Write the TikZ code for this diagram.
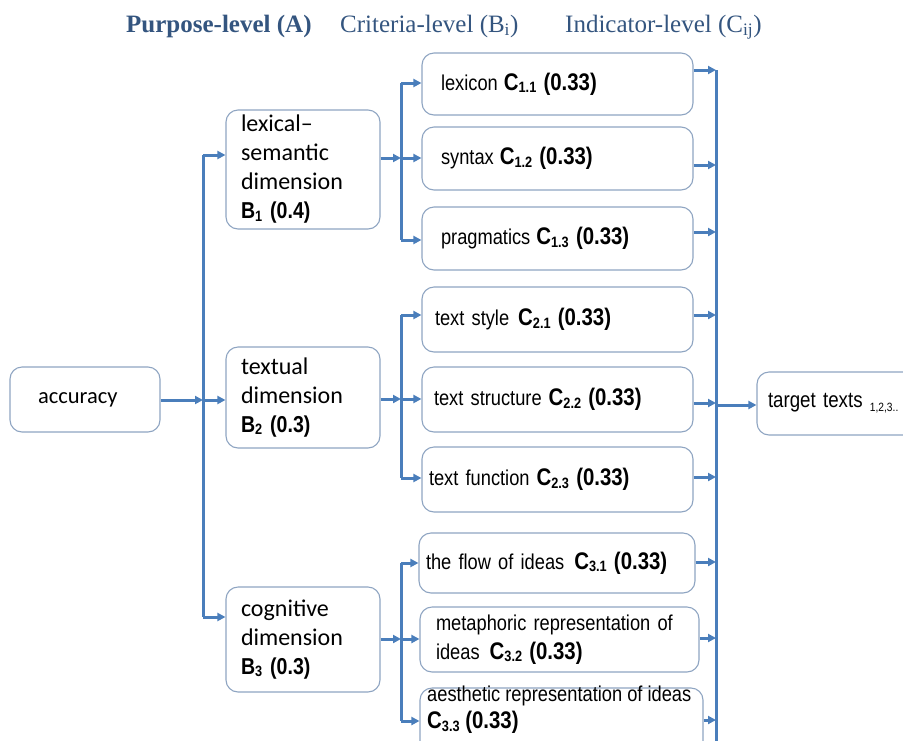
\documentclass[tikz,border=0pt]{standalone}
\usepackage{fontspec}
\setmainfont{Carlito}
\newfontfamily\hfont{Liberation Serif}
\newfontfamily\nfont[FakeStretch=0.85]{Liberation Sans}
\usetikzlibrary{arrows.meta}
\definecolor{lineblue}{HTML}{4A7EBB}
\definecolor{boxedge}{HTML}{8FA5C2}
\definecolor{hdr}{HTML}{34557F}
\newcommand\sbs[1]{\raisebox{-0.1em}{\fontsize{15}{15}\selectfont #1}}
\newcommand\cw[1]{{\bfseries\fontsize{24}{29}\selectfont #1}}
\newcommand\bw[1]{{\nfont\bfseries\fontsize{23}{29}\selectfont #1}}
\begin{document}
\begin{tikzpicture}[x=1pt,y=-1pt,
  rbox/.style={draw=boxedge, line width=1.1pt, rounded corners=12pt, fill=white, inner ysep=0pt, align=left},
  btext/.style={font=\fontsize{24}{29}\selectfont},
  ctext/.style={font=\nfont\fontsize{21.5}{29}\selectfont},
  link/.style={draw=lineblue, line width=3pt},
  arr/.style={link, -{Triangle[length=8pt,width=8pt]}},
  hdrtext/.style={font=\hfont\fontsize{25}{30}\selectfont, text=hdr, inner sep=0pt, anchor=base west}
]
\useasboundingbox (0,0) rectangle (903,740);
\clip (0,0) rectangle (903,740);

% headers
\node[hdrtext] (h1) at (126,32) {\bfseries Purpose-level (A)};
\node[hdrtext] (h2) at (340,32) {Criteria-level (B\textsubscript{i})};
\node[hdrtext] (h3) at (565,32) {Indicator-level (C\textsubscript{ij})};

% boxes
\node[rbox, btext, minimum height=65pt, text width=94pt, inner xsep=28pt, font=\fontsize{22.5}{29}\selectfont] (acc) at (85,399.5) {accuracy};

\node[rbox, btext, minimum height=119pt, text width=124pt, inner xsep=15pt] (B1) at (303,169.5)
  {lexical--\\semantic\\dimension\\\bw{B\sbs{1} (0.4)}};
\node[rbox, btext, minimum height=101pt, text width=124pt, inner xsep=15pt] (B2) at (303,397.5)
  {textual\\dimension\\\bw{B\sbs{2} (0.3)}};
\node[rbox, btext, minimum height=105pt, text width=124pt, inner xsep=15pt] (B3) at (303,639.5)
  {cognitive\\dimension\\\bw{B\sbs{3} (0.3)}};

\node[rbox, ctext, minimum height=62pt, text width=233pt, inner xsep=19pt] (C11) at (557.5,84)
  {lexicon\hspace{6pt}\cw{C\sbs{1.1} (0.33)}};
\node[rbox, ctext, minimum height=63pt, text width=233pt, inner xsep=19pt] (C12) at (557.5,158.5)
  {syntax\hspace{6pt}\cw{C\sbs{1.2} (0.33)}};
\node[rbox, ctext, minimum height=63pt, text width=233pt, inner xsep=19pt] (C13) at (557.5,238.5)
  {pragmatics\hspace{6pt}\cw{C\sbs{1.3} (0.33)}};

\node[rbox, ctext, minimum height=65pt, text width=245pt, inner xsep=13pt] (C21) at (557.5,319.5)
  {text style\hspace{9pt}\cw{C\sbs{2.1} (0.33)}};
\node[rbox, ctext, minimum height=65pt, text width=247pt, inner xsep=12pt] (C22) at (557.5,399.5)
  {text structure\hspace{7pt}\cw{C\sbs{2.2} (0.33)}};
\node[rbox, ctext, minimum height=65pt, text width=257pt, inner xsep=7pt] (C23) at (557.5,479.5)
  {text function\hspace{7pt}\cw{C\sbs{2.3} (0.33)}};

\node[rbox, ctext, minimum height=60pt, text width=262pt, inner xsep=7pt] (C31) at (557,563)
  {the flow of ideas\hspace{10pt}\cw{C\sbs{3.1} (0.33)}};
\node[rbox, ctext, minimum height=65pt, text width=247pt, inner xsep=16pt] (C32) at (559.5,639.5)
  {metaphoric representation of\\ideas\hspace{10pt}\cw{C\sbs{3.2} (0.33)}};
\node[rbox, minimum height=72pt, minimum width=283pt] (C33) at (561.5,724) {};
\node[ctext, anchor=north west, inner sep=0pt, align=left, font=\nfont\fontsize{21.5}{27}\selectfont] (C33t) at (427,686)
  {aesthetic representation of ideas\\\cw{C\sbs{3.3} (0.33)}};

\node[rbox, ctext, minimum height=63pt, text width=141pt, inner xsep=11pt, font=\nfont\fontsize{22}{29}\selectfont] (T) at (838.5,403.5)
  {target texts {\fontsize{12}{12}\selectfont\raisebox{-0.35em}{1,2,3..}}};

% junction coordinates
\coordinate (sAt) at (203,155);
\coordinate (sA) at (203,400);
\coordinate (sAb) at (203,617);
\coordinate (j1t) at (401,83);
\coordinate (j1) at (401,158);
\coordinate (j1b) at (401,240);
\coordinate (j2t) at (401,315);
\coordinate (j2) at (401,399);
\coordinate (j2b) at (401,478);
\coordinate (j3t) at (401,563);
\coordinate (j3) at (401,639);
\coordinate (j3b) at (401,721);
\coordinate (rt) at (716,70);
\coordinate (rb) at (716,745);
\coordinate (r11) at (716,70);
\coordinate (r12) at (716,165);
\coordinate (r13) at (716,232);
\coordinate (r21) at (716,315);
\coordinate (r22) at (716,403);
\coordinate (r23) at (716,477);
\coordinate (r31) at (716,562);
\coordinate (r32) at (716,638);
\coordinate (r33) at (716,720);
\coordinate (rT) at (716,405);

% left spine
\draw[link] (sAt) -- (sAb);
\draw[arr] (acc.east |- sA) -- (sA);
\draw[arr] (sA) -- (B2.west |- sA);
\draw[arr] (sAt) -- (B1.west |- sAt);
\draw[arr] (sAb) -- (B3.west |- sAb);

% group 1
\draw[link] (j1t) -- (j1b);
\draw[arr] (B1.east |- j1) -- (j1);
\draw[arr] (j1) -- (C12.west |- j1);
\draw[arr] (j1t) -- (C11.west |- j1t);
\draw[arr] (j1b) -- (C13.west |- j1b);

% group 2
\draw[link] (j2t) -- (j2b);
\draw[arr] (B2.east |- j2) -- (j2);
\draw[arr] (j2) -- (C22.west |- j2);
\draw[arr] (j2t) -- (C21.west |- j2t);
\draw[arr] (j2b) -- (C23.west |- j2b);

% group 3
\draw[link] (j3t) -- (j3b);
\draw[arr] (B3.east |- j3) -- (j3);
\draw[arr] (j3) -- (C32.west |- j3);
\draw[arr] (j3t) -- (C31.west |- j3t);
\draw[arr] (j3b) -- (C33.west |- j3b);

% right spine
\draw[link] (rt) -- (rb);
\draw[arr] (C11.east |- r11) -- (r11);
\draw[arr] (C12.east |- r12) -- (r12);
\draw[arr] (C13.east |- r13) -- (r13);
\draw[arr] (C21.east |- r21) -- (r21);
\draw[arr] (C22.east |- r22) -- (r22);
\draw[arr] (C23.east |- r23) -- (r23);
\draw[arr] (C31.east |- r31) -- (r31);
\draw[arr] (C32.east |- r32) -- (r32);
\draw[arr] (C33.east |- r33) -- (r33);
\draw[arr] (rT) -- (T.west |- rT);
\end{tikzpicture}
\end{document}
